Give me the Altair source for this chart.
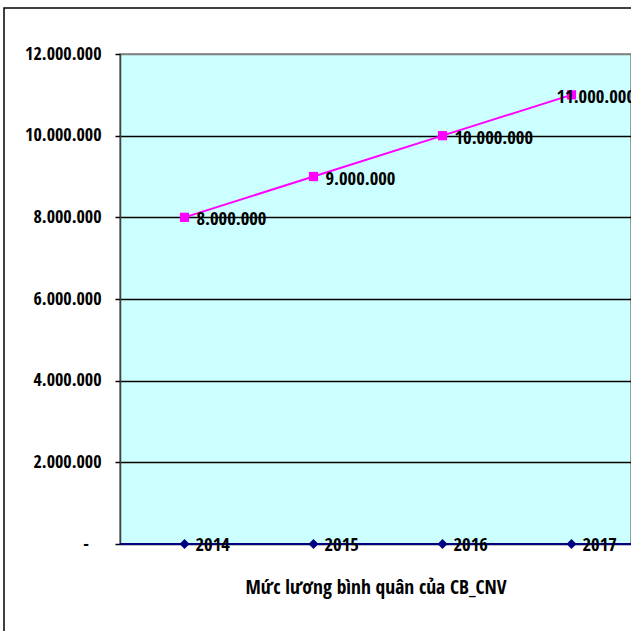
import altair as alt
import pandas as pd

years = [2014, 2015, 2016, 2017]
salary = [8000000, 9000000, 10000000, 11000000]
baseline_vals = [0, 0, 0, 0]
year_labels = ["2014", "2015", "2016", "2017"]
y_ticks = [0, 2000000, 4000000, 6000000, 8000000, 10000000, 12000000]
x_title = "Mức lương bình quân của CB_CNV"

FONT = "Open Sans Condensed, Roboto Condensed, sans-serif"

df = pd.DataFrame({"year": years, "salary": salary, "base": baseline_vals, "ylab": year_labels})
df["txt"] = [f"{v:,}".replace(",", ".") for v in salary]

x_scale = alt.Scale(domain=[2013.5, 2013.5 + 511 / 129], nice=False, zero=False)
y_scale = alt.Scale(domain=[0, 12000000], nice=False)

base = alt.Chart(df)

x_enc = alt.X(
    "year:Q",
    scale=x_scale,
    axis=alt.Axis(
        title=x_title, labels=False, ticks=False, domain=False, grid=False,
        titleFont=FONT, titleFontSize=19.5, titleFontWeight="bold", titleColor="black",
        titlePadding=34,
    ),
)

line = base.mark_line(color="#FF00FF", strokeWidth=2).encode(
    x=x_enc,
    y=alt.Y(
        "salary:Q",
        scale=y_scale,
        axis=alt.Axis(
            title=None, values=y_ticks, tickSize=5, tickColor="black", tickWidth=1.5,
            labelFont=FONT, labelFontSize=18, labelFontWeight="bold", labelColor="black",
            labelPadding=14, domain=True, domainColor="#404040", domainWidth=1.5,
            grid=True, gridWidth=1.5,
            gridColor={"condition": {"test": "datum.value >= 12000000", "value": "#808080"}, "value": "black"},
            labelExpr="datum.value == 0 ? '-\u2002\u2009\u200b' : replace(replace(format(datum.value, ','), ',', '.'), ',', '.')",
        ),
    ),
)

pts = base.mark_point(shape="square", filled=True, color="#FF00FF", size=85, opacity=1).encode(
    x=alt.X("year:Q", scale=x_scale), y=alt.Y("salary:Q", scale=y_scale)
)

lbl_main = base.transform_filter("datum.year < 2017").mark_text(
    align="left", baseline="middle", dx=12, dy=2, font=FONT, fontSize=18.5, fontWeight="bold", color="black"
).encode(x=alt.X("year:Q", scale=x_scale), y=alt.Y("salary:Q", scale=y_scale), text="txt:N")

lbl_last = base.transform_filter("datum.year == 2017").mark_text(
    align="left", baseline="middle", dx=-15, dy=2, font=FONT, fontSize=18.5, fontWeight="bold", color="black"
).encode(x=alt.X("year:Q", scale=x_scale), y=alt.Y("salary:Q", scale=y_scale), text="txt:N")

zrule = base.mark_rule(color="#000080", strokeWidth=2).encode(
    x=alt.value(0), x2=alt.value(511), y=alt.Y("base:Q", scale=y_scale)
)
zpts = base.mark_point(shape="diamond", filled=True, color="#000080", size=100, opacity=1).encode(
    x=alt.X("year:Q", scale=x_scale), y=alt.Y("base:Q", scale=y_scale)
)
zlbl = base.mark_text(
    align="left", baseline="middle", dx=11, dy=1, font=FONT, fontSize=18.5, fontWeight="bold", color="black"
).encode(x=alt.X("year:Q", scale=x_scale), y=alt.Y("base:Q", scale=y_scale), text="ylab:N")

border = alt.Chart(pd.DataFrame({"a": [0]})).mark_rect(
    fill=None, stroke="black", strokeWidth=1.5
).encode(x=alt.value(-116), x2=alt.value(700), y=alt.value(-46), y2=alt.value(700))

chart = alt.layer(line, zrule, pts, zpts, lbl_main, lbl_last, zlbl, border).properties(
    width=511, height=490,
    autosize=alt.AutoSizeParams(type="none"),
    padding={"left": 120, "top": 54, "right": 0, "bottom": 87},
    background="white",
).configure_view(fill="#CCFFFF", stroke="#808080", strokeWidth=1.5)

chart.save("out.html", embed_options={"renderer": "svg", "actions": False})
